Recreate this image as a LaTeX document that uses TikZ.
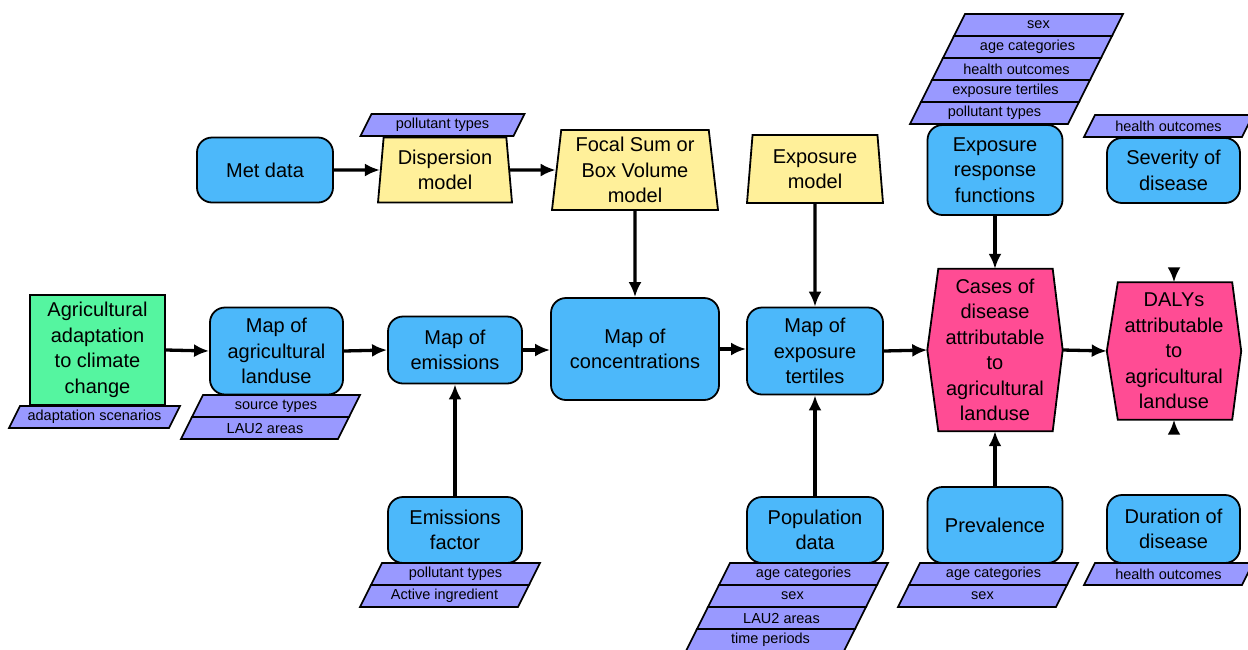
\documentclass[tikz,border=0pt]{standalone}
\usepackage{fontspec}
\setmainfont{Liberation Sans}
\usetikzlibrary{arrows.meta,shapes.geometric,backgrounds,calc}

\definecolor{boxblue}{HTML}{4CB8FA}
\definecolor{modelyellow}{HTML}{FFF09A}
\definecolor{tagviolet}{HTML}{9999FF}
\definecolor{outpink}{HTML}{FF4C94}
\definecolor{drivergreen}{HTML}{55F5A0}

% attribute tag: name, centre x, centre y, width, text
\newcommand{\tagrow}[5]{%
  \draw[tagframe] (#2-#4/2+5.5,#3-11) -- (#2+#4/2+5.5,#3-11)
    -- (#2+#4/2-5.5,#3+11) -- (#2-#4/2-5.5,#3+11) -- cycle;
  \node[tagtext] (#1) at (#2,#3) {#5};
}

\tikzset{
  lbl/.style={align=center, inner sep=0pt, font=\fontsize{20}{25.5}\selectfont},
  proc/.style={lbl, draw=black, line width=1.8pt, fill=boxblue, rounded corners=15pt},
  driver/.style={lbl, draw=black, line width=1.8pt, fill=drivergreen},
  model/.style={lbl, trapezium, trapezium left angle=82, trapezium right angle=82,
    trapezium stretches body, draw=black, line width=1.8pt, fill=modelyellow},
  outcome/.style={lbl, rectangle},
  outshape/.style={draw=black, line width=1.8pt, fill=outpink, line join=miter},
  tagframe/.style={draw=black, line width=1.6pt, fill=tagviolet, line join=miter},
  tagtext/.style={inner sep=0pt, font=\fontsize{14.5}{16}\selectfont},
  flow/.style={line width=3.3pt, -{Latex[length=15pt,width=13pt]}}
}

\begin{document}
\begin{tikzpicture}[x=1pt,y=-1pt]
\useasboundingbox (0,0) rectangle (1248,649);
\clip (0,0) rectangle (1248,649);
\begin{scope}[on background layer]
  \fill[white] (0,0) rectangle (1248,649);
\end{scope}

% top row
\node[proc, minimum width=136, minimum height=65] (met) at (265,170) {Met data};
\node[model, minimum width=134, minimum height=65] (disp) at (445,170) {Dispersion\\model};
\node[model, minimum width=166, minimum height=80] (focal) at (635,170) {Focal Sum or\\Box Volume\\model};
\node[model, minimum width=136, minimum height=68] (expm) at (815,169) {Exposure\\model};
\node[proc, minimum width=135, minimum height=90] (erf) at (995,170) {Exposure\\response\\functions};
\node[proc, minimum width=133, minimum height=65] (sev) at (1173.5,170.5) {Severity of\\disease};

% middle row
\node[driver, minimum width=135, minimum height=110] (agri) at (97.5,350) {Agricultural\\adaptation\\to climate\\change};
\node[proc, minimum width=133, minimum height=87] (land) at (276.5,351) {Map of\\agricultural\\landuse};
\node[proc, minimum width=134, minimum height=67] (emis) at (455,350) {Map of\\emissions};
\node[proc, minimum width=168, minimum height=102] (conc) at (635,349) {Map of\\concentrations};
\node[proc, minimum width=136, minimum height=87] (tert) at (815,351) {Map of\\exposure\\tertiles};
\node[outcome, minimum width=135, minimum height=162] (cases) at (995,350) {Cases of\\disease\\attributable\\to\\agricultural\\landuse};
\node[outcome, minimum width=134, minimum height=137] (dalys) at (1174,351) {DALYs\\attributable\\to\\agricultural\\landuse};

% bottom row
\node[proc, minimum width=134, minimum height=66] (efac) at (455,530) {Emissions\\factor};
\node[proc, minimum width=136, minimum height=66] (pop) at (815,530) {Population\\data};
\node[proc, minimum width=135, minimum height=76] (prev) at (995,525) {Prevalence};
\node[proc, minimum width=133, minimum height=68] (dur) at (1173.5,529) {Duration of\\disease};

% hexagonal outcome outlines
\begin{scope}[on background layer]
  \draw[outshape] ($(cases.north west)+(11,0)$) -- ($(cases.north east)+(-10,0)$)
    -- (cases.east) -- ($(cases.south east)+(-10,0)$)
    -- ($(cases.south west)+(11,0)$) -- (cases.west) -- cycle;
  \draw[outshape] ($(dalys.north west)+(11,0)$) -- ($(dalys.north east)+(-9,0)$)
    -- (dalys.east) -- ($(dalys.south east)+(-9,0)$)
    -- ($(dalys.south west)+(11,0)$) -- (dalys.west) -- cycle;
\end{scope}

% attribute tags
\tagrow{tdisp}{442.5}{125}{153}{pollutant types}
\tagrow{terfa}{1038.5}{25}{158}{sex}
\tagrow{terfb}{1027.5}{47}{158}{age categories}
\tagrow{terfc}{1016.5}{69}{158}{health outcomes}
\tagrow{terfd}{1005.5}{91}{158}{exposure tertiles}
\tagrow{terfe}{994.5}{113}{158}{pollutant types}
\tagrow{tsev}{1168.5}{126}{158}{health outcomes}
\tagrow{tagri}{94.5}{417}{160}{adaptation scenarios}
\tagrow{tlanda}{276}{406}{157}{source types}
\tagrow{tlandb}{265}{428}{157}{LAU2 areas}
\tagrow{tefaca}{455.5}{574}{158}{pollutant types}
\tagrow{tefacb}{444.5}{596}{158}{Active ingredient}
\tagrow{tpopa}{803.5}{574}{158}{age categories}
\tagrow{tpopb}{792.5}{596}{158}{sex}
\tagrow{tpopc}{781.5}{618}{158}{LAU2 areas}
\tagrow{tpopd}{770.5}{640}{158}{time periods}
\tagrow{tpreva}{993.5}{574}{158}{age categories}
\tagrow{tprevb}{982.5}{596}{158}{sex}
\tagrow{tdur}{1168.5}{574}{158}{health outcomes}

% connectors
\draw[flow] (met.east) -- (disp);
\draw[flow] (disp) -- (focal);
\draw[flow] (focal.south) -- (conc.north);
\draw[flow] (expm.south) -- (tert.north);
\draw[flow] (erf.south) -- (cases.north);
\draw[flow] (agri.east) -- (land.west);
\draw[flow] (land.east) -- (emis.west);
\draw[flow] (emis.east) -- (emis.east -| conc.west);
\draw[flow] (conc.east) -- (conc.east -| tert.west);
\draw[flow] (tert.east) -- (cases.west);
\draw[flow] (cases.east) -- (dalys.west);
\draw[flow] (efac.north) -- (emis.south);
\draw[flow] (pop.north) -- (tert.south);
\draw[flow] (prev.north) -- (cases.south);
\coordinate (dtop) at (1174,269);
\coordinate (dbot) at (1174,434);
\draw[flow] (dtop) -- (dalys.north);
\draw[flow] (dbot) -- (dalys.south);
\end{tikzpicture}
\end{document}
